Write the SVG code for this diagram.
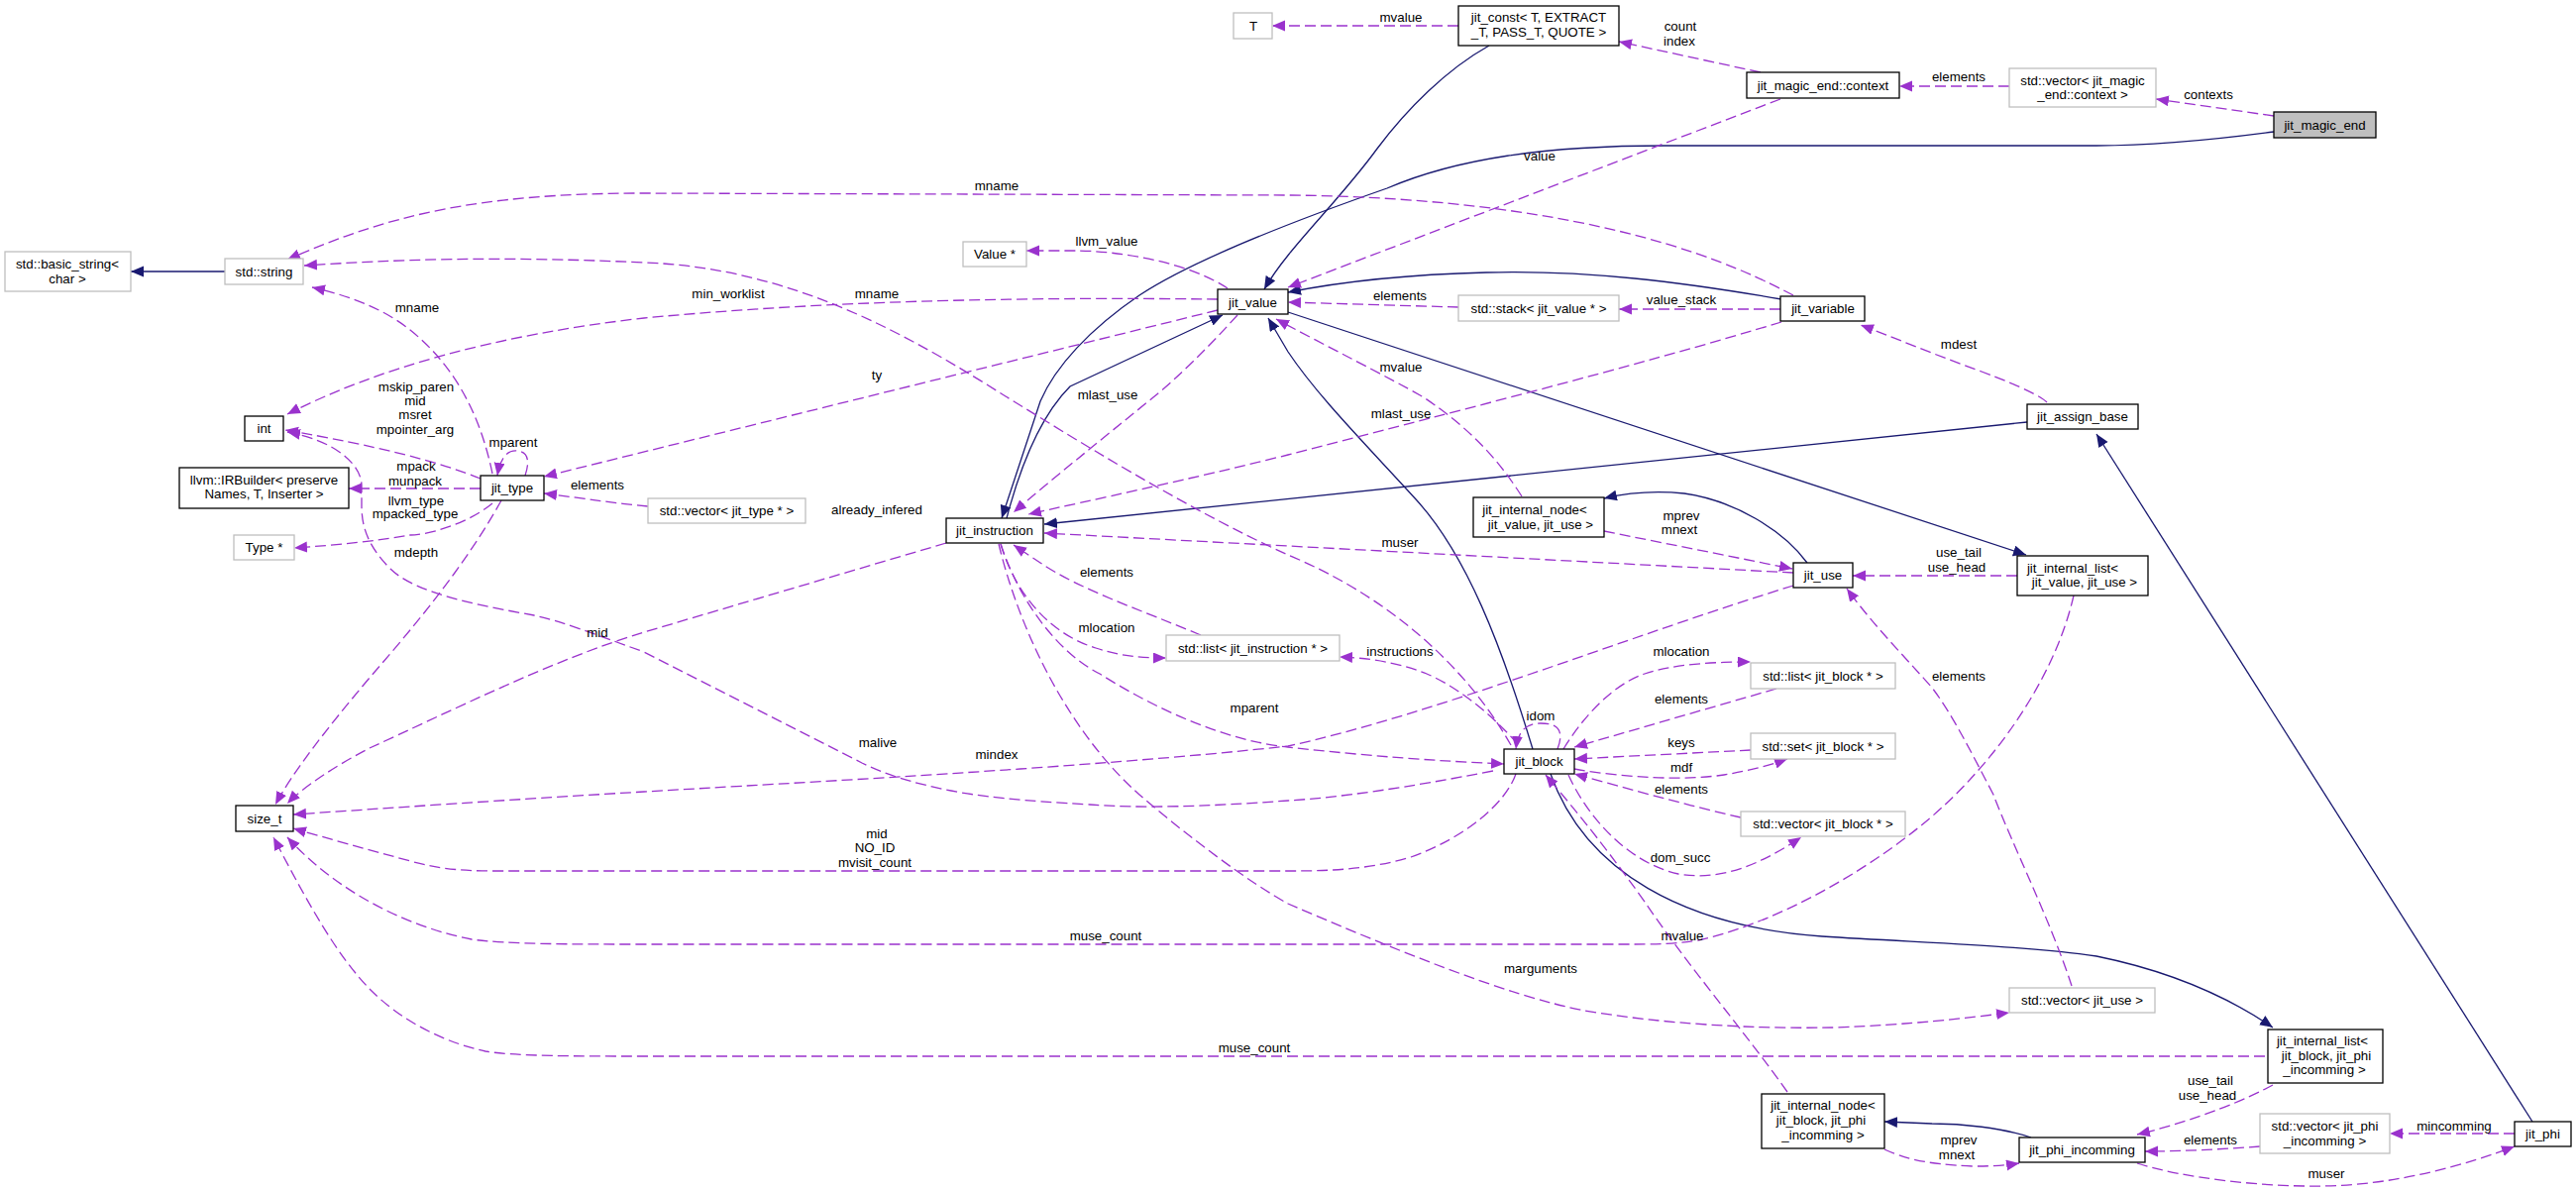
<svg xmlns="http://www.w3.org/2000/svg" width="2600" height="1203" viewBox="0 0 2600 1203">
<style>
text{font-family:"Liberation Sans",Arial,sans-serif;font-size:13.33px;fill:#000;text-anchor:middle}
.b{fill:#fff;stroke:#000;stroke-width:1.3}
.g{fill:#fff;stroke:#bfbfbf;stroke-width:1.3}
.r{fill:#bfbfbf;stroke:#000;stroke-width:1.3}
.i{fill:none;stroke:#191970;stroke-width:1.3;marker-end:url(#ab)}
.u{fill:none;stroke:#9a32cd;stroke-width:1.3;stroke-dasharray:11,5;marker-end:url(#ap)}
</style>
<defs>
<marker id="ab" markerUnits="userSpaceOnUse" markerWidth="14" markerHeight="12" refX="13" refY="5.5" orient="auto"><path d="M0,0 L13,5.5 L0,11 z" fill="#191970"/></marker>
<marker id="ap" markerUnits="userSpaceOnUse" markerWidth="14" markerHeight="12" refX="13" refY="5.5" orient="auto"><path d="M0,0 L13,5.5 L0,11 z" fill="#9a32cd"/></marker>
</defs>
<rect width="2600" height="1203" fill="#fff"/>
<g id="connectors">
<path class="i" d="M227,274 L132,274"/>
<path class="i" d="M1503,46 C1460,70 1420,110 1390,150 C1350,205 1300,250 1276,292"/>
<path class="i" d="M2295,133 C2220,143 2170,147 2116,147 L1680,147 C1560,147 1470,160 1400,190 C1300,225 1200,265 1150,298 C1100,332 1065,370 1050,405 L1011,523"/>
<path class="i" d="M1016,523 C1030,470 1050,420 1080,390 L1234,318"/>
<path class="i" d="M1547,756 C1515,650 1480,560 1430,505 C1380,450 1330,400 1300,355 L1280,321"/>
<path class="i" d="M1798,302 C1700,285 1600,272 1500,275 C1420,277 1350,285 1300,295"/>
<path class="i" d="M1300,315 L2045,560"/>
<path class="i" d="M1824,568 C1800,535 1750,505 1700,498 C1670,495 1640,498 1619,503"/>
<path class="i" d="M2046,426 L1054,529"/>
<path class="i" d="M2556,1132 L2116,438"/>
<path class="i" d="M1565,781 C1600,880 1700,935 1839,945 C1950,952 2050,955 2116,965 C2180,978 2240,1000 2294,1037"/>
<path class="i" d="M2050,1148 C2020,1138 1980,1134 1950,1134 L1902,1132"/>

<path class="u" d="M1810,298 C1760,272 1620,200 1300,197 L650,195 C480,195 390,218 290,262"/>
<path class="u" d="M1525,752 C1490,690 1420,610 1300,560 C1200,515 1080,440 1015,400 C920,340 800,270 650,265 C500,258 400,262 307,268"/>
<path class="u" d="M497,478 C485,420 460,370 414,333 C385,310 350,298 315,290"/>
<path class="u" d="M1229,302 C1050,300 850,302 650,321 C500,338 380,372 290,418"/>
<path class="u" d="M485,483 C440,465 380,450 288,434"/>
<path class="u" d="M1507,778 C1420,795 1350,805 1300,808 C1220,814 1150,816 1100,812 C1030,808 990,804 960,798 C920,790 895,782 870,770 L650,658 C600,640 570,628 539,621 C490,612 420,600 394,574 C370,550 365,530 365,510 L365,490 C365,470 340,445 290,436"/>
<path class="u" d="M485,493 L352,493"/>
<path class="u" d="M497,508 C470,530 430,540 414,540 C380,546 340,550 297,553"/>
<path class="u" d="M530,480 C535,465 533,456 522,455 C512,454 505,462 502,480"/>
<path class="u" d="M654,511 C620,508 590,503 549,498"/>
<path class="u" d="M1229,313 L549,481"/>
<path class="u" d="M1239,291 C1200,265 1130,253 1085,253 L1036,253"/>
<path class="u" d="M1472,26 L1284,26"/>
<path class="u" d="M1777,73 L1634,42"/>
<path class="u" d="M2028,87 L1917,87"/>
<path class="u" d="M2295,117 L2176,100"/>
<path class="u" d="M1797,100 L1300,290"/>
<path class="u" d="M1472,310 L1300,305"/>
<path class="u" d="M1797,312 L1634,312"/>
<path class="u" d="M1798,325 C1650,370 1450,420 1300,459 C1200,484 1100,505 1038,519"/>
<path class="u" d="M1536,501 C1510,460 1480,430 1437,401 C1400,380 1340,350 1288,322"/>
<path class="u" d="M1249,318 C1220,350 1190,380 1164,401 C1110,445 1060,485 1023,517"/>
<path class="u" d="M1810,578 L1054,538"/>
<path class="u" d="M1619,536 L1809,574"/>
<path class="u" d="M2036,581 L1870,581"/>
<path class="u" d="M2091,995 C2070,930 2030,850 2012,802 C1990,760 1970,720 1950,694 C1920,660 1890,630 1864,594"/>
<path class="u" d="M2093,601 C2075,680 2020,760 1960,815 C1900,870 1800,930 1714,949 C1690,953 1670,953 1640,953 L650,953 C580,953 510,953 476,948 C410,935 340,900 290,845"/>
<path class="u" d="M2286,1066 L650,1066 C580,1066 520,1066 490,1061 C440,1050 400,1025 375,1000 C340,965 310,910 276,845"/>
<path class="u" d="M1530,781 C1520,810 1480,845 1424,865 C1380,878 1340,879 1300,879 L500,879 C460,879 440,876 414,869 C370,857 330,846 296,836"/>
<path class="u" d="M1810,591 C1650,640 1450,720 1300,753 C1100,775 800,790 650,799 C500,808 400,815 296,822"/>
<path class="u" d="M1010,549 C1030,610 1070,660 1110,680 C1170,718 1240,748 1300,754 C1380,763 1450,768 1518,771"/>
<path class="u" d="M1212,641 C1150,615 1090,595 1050,568 L1023,550"/>
<path class="u" d="M1010,549 C1025,600 1060,640 1106,654 C1130,662 1150,664 1177,664"/>
<path class="u" d="M1532,751 C1500,715 1466,691 1440,680 C1410,668 1380,664 1352,663"/>
<path class="u" d="M1008,549 C1030,640 1080,740 1150,802 C1200,845 1260,890 1300,912 C1400,955 1520,1005 1600,1020 C1700,1037 1800,1038 1850,1037 C1930,1034 1980,1028 2028,1022"/>
<path class="u" d="M955,548 L650,638 C560,665 450,720 373,755 C340,772 305,795 290,811"/>
<path class="u" d="M506,505 C470,570 420,630 373,684 C330,735 295,780 278,812"/>
<path class="u" d="M1572,756 C1580,735 1570,730 1555,730 C1540,730 1532,738 1530,756"/>
<path class="u" d="M1578,756 C1600,720 1630,690 1660,680 C1690,670 1730,668 1767,668"/>
<path class="u" d="M1793,695 L1589,754"/>
<path class="u" d="M1767,757 L1589,766"/>
<path class="u" d="M1589,776 C1640,785 1700,788 1740,782 C1770,777 1790,771 1804,766"/>
<path class="u" d="M1757,825 C1700,812 1640,795 1589,781"/>
<path class="u" d="M1583,782 C1600,820 1640,870 1694,882 C1740,890 1780,870 1818,845"/>
<path class="u" d="M1804,1102 C1760,1040 1700,970 1660,910 C1610,840 1575,800 1560,782"/>
<path class="u" d="M2066,406 C2060,400 2040,390 2000,375 C1950,357 1910,340 1878,328"/>
<path class="u" d="M2294,1095 C2270,1108 2220,1130 2157,1145"/>
<path class="u" d="M1902,1160 C1920,1168 1940,1175 1991,1177 C2010,1177 2025,1176 2038,1174"/>
<path class="u" d="M2281,1157 C2240,1160 2200,1162 2165,1162"/>
<path class="u" d="M2538,1144 L2412,1144"/>
<path class="u" d="M2157,1174 C2200,1188 2280,1198 2344,1197 C2420,1196 2490,1175 2538,1157"/>
</g>
<g id="labels">
<text x="1006" y="191.5">mname</text>
<text x="421" y="314.5">mname</text>
<text x="735" y="300.5">min_worklist</text>
<text x="885" y="300.5">mname</text>
<text x="1117" y="247.5">llvm_value</text>
<text x="885" y="382.5">ty</text>
<text x="1118" y="402.5">mlast_use</text>
<text x="1414" y="21.5">mvalue</text>
<text x="1696" y="30.5">count</text>
<text x="1695" y="45.5">index</text>
<text x="1554" y="161.5">value</text>
<text x="1413" y="302.5">elements</text>
<text x="1697" y="306.5">value_stack</text>
<text x="1414" y="374.5">mvalue</text>
<text x="1977" y="81.5">elements</text>
<text x="2229" y="99.5">contexts</text>
<text x="1977" y="351.5">mdest</text>
<text x="420" y="394.5">mskip_paren</text>
<text x="419" y="408.5">mid</text>
<text x="419" y="423">msret</text>
<text x="419" y="438">mpointer_arg</text>
<text x="518" y="451">mparent</text>
<text x="420" y="474.5">mpack</text>
<text x="419" y="489.5">munpack</text>
<text x="420" y="509.5">llvm_type</text>
<text x="419" y="523">mpacked_type</text>
<text x="603" y="493.5">elements</text>
<text x="420" y="562">mdepth</text>
<text x="603" y="643">mid</text>
<text x="885" y="519">already_infered</text>
<text x="1117" y="582">elements</text>
<text x="1117" y="638">mlocation</text>
<text x="1266" y="718.5">mparent</text>
<text x="886" y="753.5">malive</text>
<text x="1006" y="765.5">mindex</text>
<text x="1414" y="422">mlast_use</text>
<text x="1697" y="524.5">mprev</text>
<text x="1695" y="538.5">mnext</text>
<text x="1413" y="551.5">muser</text>
<text x="1977" y="562">use_tail</text>
<text x="1975" y="577">use_head</text>
<text x="1413" y="662">instructions</text>
<text x="1697" y="662">mlocation</text>
<text x="1697" y="709.5">elements</text>
<text x="1555" y="727">idom</text>
<text x="1697" y="753.5">keys</text>
<text x="1697" y="778.5">mdf</text>
<text x="1697" y="801">elements</text>
<text x="1977" y="687">elements</text>
<text x="885" y="845.5">mid</text>
<text x="883" y="859.5">NO_ID</text>
<text x="883" y="874.5">mvisit_count</text>
<text x="1116" y="949">muse_count</text>
<text x="1266" y="1062">muse_count</text>
<text x="1696" y="869.5">dom_succ</text>
<text x="1698" y="949">mvalue</text>
<text x="1555" y="982">marguments</text>
<text x="2231" y="1094.5">use_tail</text>
<text x="2228" y="1109.5">use_head</text>
<text x="2231" y="1155">elements</text>
<text x="2477" y="1140.5">mincomming</text>
<text x="1977" y="1155">mprev</text>
<text x="1975" y="1169.5">mnext</text>
<text x="2348" y="1189">muser</text>
</g>
<g id="n-basic_string"><rect class="g" x="5" y="254" width="127" height="40"/><text x="68" y="270.5">std::basic_string&lt;</text><text x="68" y="285.5">char &gt;</text></g>
<g id="n-string"><rect class="g" x="227" y="261" width="79" height="26"/><text x="266.5" y="278.5">std::string</text></g>
<g id="n-T"><rect class="g" x="1245" y="13" width="39" height="26"/><text x="1265" y="30.5">T</text></g>
<g id="n-jit_const"><rect class="b" x="1472" y="6" width="162" height="40"/><text x="1553" y="21.5">jit_const&lt; T, EXTRACT</text><text x="1553" y="36.5">_T, PASS_T, QUOTE &gt;</text></g>
<g id="n-context"><rect class="b" x="1763" y="73" width="154" height="26"/><text x="1840" y="90.5">jit_magic_end::context</text></g>
<g id="n-vec_context"><rect class="g" x="2028" y="69" width="148" height="39"/><text x="2102" y="85.5">std::vector&lt; jit_magic</text><text x="2102" y="99.5">_end::context &gt;</text></g>
<g id="n-jit_magic_end"><rect class="r" x="2295" y="113" width="103" height="26"/><text x="2346.5" y="130.5">jit_magic_end</text></g>
<g id="n-Value"><rect class="g" x="972" y="244" width="64" height="25"/><text x="1004" y="261">Value *</text></g>
<g id="n-jit_value"><rect class="b" x="1229" y="292" width="71" height="25"/><text x="1264.5" y="309.5">jit_value</text></g>
<g id="n-stack"><rect class="g" x="1472" y="298" width="162" height="26"/><text x="1553" y="315.5">std::stack&lt; jit_value * &gt;</text></g>
<g id="n-jit_variable"><rect class="b" x="1797" y="299" width="85" height="25"/><text x="1840" y="316">jit_variable</text></g>
<g id="n-int"><rect class="b" x="247" y="420" width="39" height="25"/><text x="266.5" y="437">int</text></g>
<g id="n-IRBuilder"><rect class="b" x="181" y="472" width="171" height="41"/><text x="266.5" y="488.5">llvm::IRBuilder&lt; preserve</text><text x="266.5" y="502.5">Names, T, Inserter &gt;</text></g>
<g id="n-Type"><rect class="g" x="236" y="540" width="61" height="25"/><text x="266.5" y="557">Type *</text></g>
<g id="n-jit_type"><rect class="b" x="485" y="480" width="64" height="25"/><text x="517" y="497">jit_type</text></g>
<g id="n-vec_type"><rect class="g" x="654" y="503" width="159" height="25"/><text x="733.5" y="520">std::vector&lt; jit_type * &gt;</text></g>
<g id="n-jit_instruction"><rect class="b" x="955" y="523" width="98" height="25"/><text x="1004" y="540">jit_instruction</text></g>
<g id="n-jit_assign_base"><rect class="b" x="2046" y="408" width="112" height="25"/><text x="2102" y="425">jit_assign_base</text></g>
<g id="n-inode_vu"><rect class="b" x="1487" y="502" width="132" height="40"/><text x="1549" y="518.5">jit_internal_node&lt;</text><text x="1555" y="533.5">jit_value, jit_use &gt;</text></g>
<g id="n-jit_use"><rect class="b" x="1810" y="568" width="60" height="25"/><text x="1840" y="585">jit_use</text></g>
<g id="n-ilist_vu"><rect class="b" x="2036" y="561" width="132" height="40"/><text x="2092" y="577.5">jit_internal_list&lt;</text><text x="2104" y="591.5">jit_value, jit_use &gt;</text></g>
<g id="n-list_instr"><rect class="g" x="1177" y="641" width="175" height="26"/><text x="1264.5" y="658.5">std::list&lt; jit_instruction * &gt;</text></g>
<g id="n-list_block"><rect class="g" x="1767" y="669" width="146" height="26"/><text x="1840" y="686.5">std::list&lt; jit_block * &gt;</text></g>
<g id="n-jit_block"><rect class="b" x="1518" y="756" width="71" height="25"/><text x="1553.5" y="773">jit_block</text></g>
<g id="n-set_block"><rect class="g" x="1767" y="740" width="146" height="26"/><text x="1840" y="757.5">std::set&lt; jit_block * &gt;</text></g>
<g id="n-vec_block"><rect class="g" x="1757" y="819" width="166" height="25"/><text x="1840" y="836">std::vector&lt; jit_block * &gt;</text></g>
<g id="n-size_t"><rect class="b" x="238" y="813" width="58" height="26"/><text x="267" y="830.5">size_t</text></g>
<g id="n-vec_use"><rect class="g" x="2028" y="997" width="147" height="25"/><text x="2101.5" y="1014">std::vector&lt; jit_use &gt;</text></g>
<g id="n-ilist_bp"><rect class="b" x="2289" y="1039" width="116" height="54"/><text x="2344" y="1054.5">jit_internal_list&lt;</text><text x="2348" y="1069.5">jit_block, jit_phi</text><text x="2346" y="1083.5">_incomming &gt;</text></g>
<g id="n-inode_bp"><rect class="b" x="1778" y="1104" width="124" height="55"/><text x="1840" y="1119.5">jit_internal_node&lt;</text><text x="1838" y="1134.5">jit_block, jit_phi</text><text x="1840" y="1149.5">_incomming &gt;</text></g>
<g id="n-jit_phi_incomming"><rect class="b" x="2038" y="1148" width="127" height="25"/><text x="2101.5" y="1165">jit_phi_incomming</text></g>
<g id="n-vec_phi"><rect class="g" x="2281" y="1124" width="131" height="40"/><text x="2346.5" y="1140.5">std::vector&lt; jit_phi</text><text x="2346.5" y="1155.5">_incomming &gt;</text></g>
<g id="n-jit_phi"><rect class="b" x="2538" y="1132" width="57" height="25"/><text x="2566.5" y="1149">jit_phi</text></g>
</svg>
